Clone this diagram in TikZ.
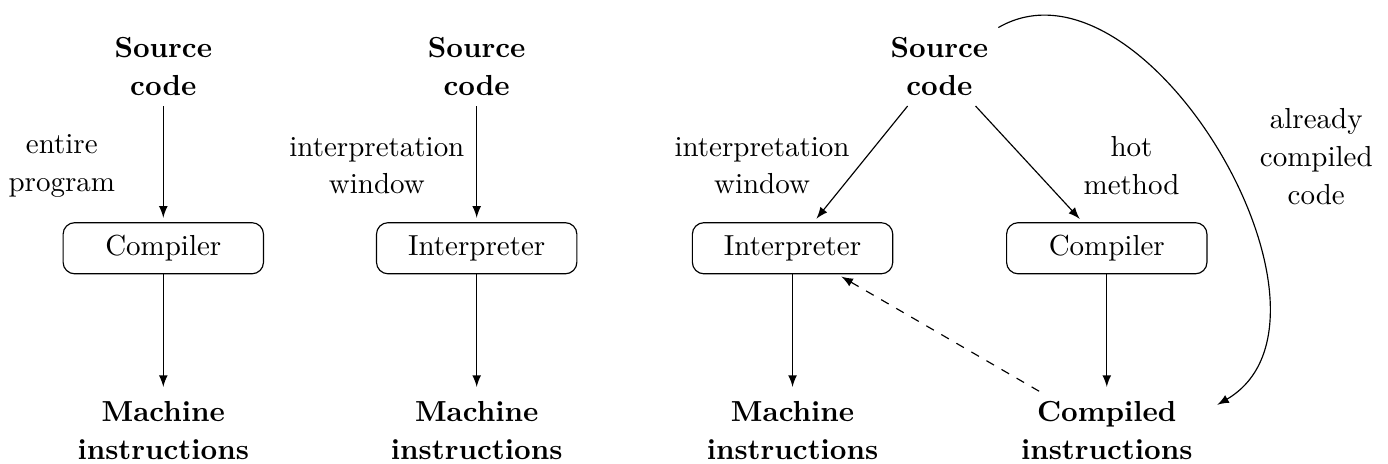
\documentclass[tikz,border=0pt]{standalone}
\begin{document}
\begin{tikzpicture}[>=latex,
    box/.style={draw, rounded corners, minimum width=2.43cm, minimum height=0.62cm},
    stage/.style={font=\fontsize{10}{13}\selectfont\bfseries, align=center},
    note/.style={font=\fontsize{10}{13}\selectfont, align=center},
    flow/.style={->, shorten >=1.5pt}]

    \useasboundingbox (0,0) rectangle (16.83,5.62);

    % --- Compiled execution ---
    \node[stage] (src1) at (1.98,4.81) {Source\\code};
    \node[box]   (cmp1) at (1.98,2.61) {Compiler};
    \node[stage] (mach1) at (1.98,0.40) {Machine\\instructions};

    \draw[flow] (src1) -- (cmp1);
    \draw[flow] (cmp1) -- (mach1);
    \node[note] (lbl1) at (0.75,3.61) {entire\\program};

    % --- Interpreted execution ---
    \node[stage] (src2) at (5.78,4.81) {Source\\code};
    \node[box]   (int2) at (5.78,2.61) {Interpreter};
    \node[stage] (mach2) at (5.78,0.40) {Machine\\instructions};

    \draw[flow] (src2) -- (int2);
    \draw[flow] (int2) -- (mach2);
    \node[note] (lbl2) at (4.57,3.61) {interpretation\\window};

    % --- Mixed mode (JIT) ---
    \node[stage] (src3) at (11.39,4.81) {Source\\code};
    \node[box]   (int3) at (9.61,2.61) {Interpreter};
    \node[box]   (cmp3) at (13.42,2.61) {Compiler};
    \node[stage] (mach3) at (9.61,0.40) {Machine\\instructions};
    \node[stage] (comp3) at (13.42,0.40) {Compiled\\instructions};

    \draw[flow] (src3) -- (int3);
    \draw[flow] (src3) -- (cmp3);
    \draw[flow] (int3) -- (mach3);
    \draw[flow] (cmp3) -- (comp3);
    \draw[flow, dashed] (comp3) -- (int3);

    % Loop back for code that is already compiled
    \draw[->] (src3.north east) to[out=30, in=30] ([xshift=5pt]comp3.15);

    \node[note] (lbl3) at (9.24,3.61) {interpretation\\window};
    \node[note] (lbl4) at (13.72,3.61) {hot\\method};
    \node[note] (lbl5) at (15.96,3.72) {already\\compiled\\code};

\end{tikzpicture}
\end{document}
